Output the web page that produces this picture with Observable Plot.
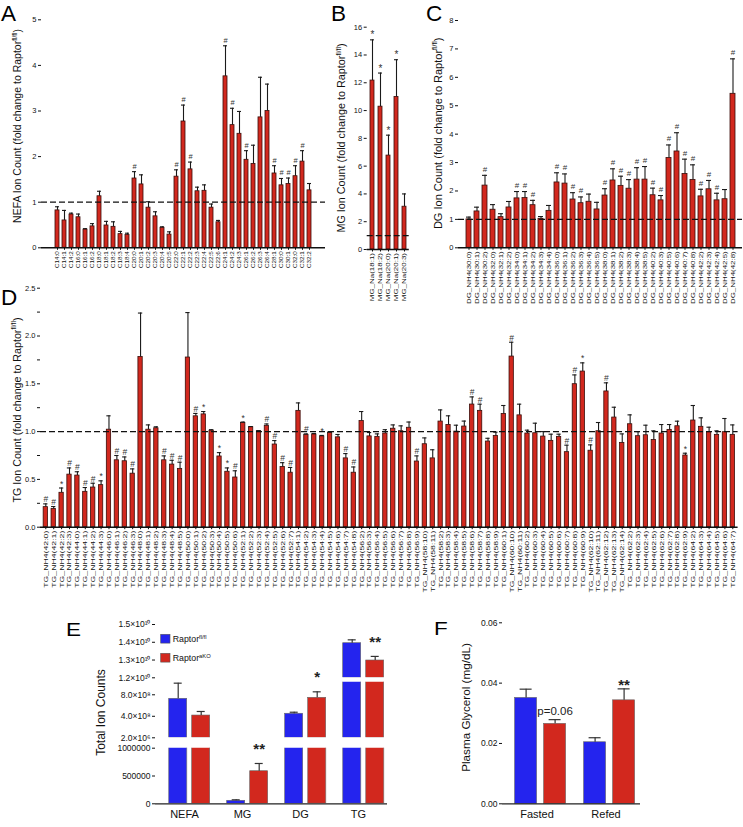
<!DOCTYPE html>
<html><head><meta charset="utf-8">
<script src="https://cdn.jsdelivr.net/npm/d3@7"></script>
<script src="https://cdn.jsdelivr.net/npm/@observablehq/plot@0.6"></script>
<style>
body{margin:0;background:#fff;font-family:'Liberation Sans',Arial,sans-serif}
#fig{position:relative;width:743px;height:827px;overflow:hidden;background:#fff}
#fig svg{overflow:visible}
</style></head><body><div id="fig"></div><script>
// ---------- DATA ----------
const nefaLabels = ["C14:0","C14:1","C14:2","C16:0","C16:1","C16:2","C18:0","C18:1","C18:2","C18:3","C18:4","C20:0","C20:1","C20:2","C20:3","C20:4","C20:5","C22:0","C22:1","C22:2","C22:3","C22:4","C22:5","C22:6","C24:1","C24:2","C24:3","C26:1","C26:2","C26:3","C26:4","C28:1","C30:0","C30:1","C32:0","C32:1","C32:2"];
const nefaMean = [0.82,0.60,0.73,0.67,0.40,0.47,1.13,0.49,0.46,0.30,0.28,1.52,1.39,0.88,0.69,0.44,0.29,1.56,2.77,1.72,1.24,1.25,0.88,0.56,3.76,2.69,2.50,1.93,1.84,2.86,3.00,1.63,1.37,1.40,1.57,1.89,1.26];
const nefaSem = [0.08,0.22,0.03,0.07,0.02,0.06,0.11,0.09,0.11,0.06,0.04,0.15,0.21,0.13,0.10,0.02,0.06,0.15,0.36,0.16,0.09,0.13,0.08,0.04,0.67,0.37,0.49,0.20,0.41,0.88,0.59,0.17,0.15,0.13,0.23,0.24,0.15];
const nefaSig = ["","","","","","","","","","","","#","","","","","","#","#","#","","","","","#","#","","#","","","","#","#","#","#","#",""];

const mgLabels = ["MG_Na(18:1)","MG_Na(18:2)","MG_Na(20:0)","MG_Na(20:1)","MG_Na(20:3)"];
const mgMean = [12.16,10.28,6.76,10.98,3.08];
const mgSem = [2.93,2.42,1.47,2.68,0.92];
const mgSig = ["*","*","*","*",""];

const dgLabels = ["DG_NH4(30:0)","DG_NH4(30:1)","DG_NH4(30:2)","DG_NH4(32:0)","DG_NH4(32:1)","DG_NH4(32:2)","DG_NH4(34:0)","DG_NH4(34:1)","DG_NH4(34:2)","DG_NH4(34:3)","DG_NH4(34:4)","DG_NH4(36:0)","DG_NH4(36:1)","DG_NH4(36:2)","DG_NH4(36:3)","DG_NH4(36:4)","DG_NH4(36:5)","DG_NH4(38:0)","DG_NH4(38:1)","DG_NH4(38:2)","DG_NH4(38:3)","DG_NH4(38:4)","DG_NH4(38:5)","DG_NH4(40:2)","DG_NH4(40:3)","DG_NH4(40:5)","DG_NH4(40:6)","DG_NH4(40:7)","DG_NH4(40:8)","DG_NH4(42:2)","DG_NH4(42:3)","DG_NH4(42:4)","DG_NH4(42:5)","DG_NH4(42:8)"];
const dgMean = [1.00,1.28,2.19,1.34,1.08,1.42,1.74,1.75,1.50,1.02,1.30,2.30,2.26,1.70,1.57,1.62,1.35,1.84,2.37,2.18,2.08,2.40,2.40,1.85,1.67,3.16,3.39,2.60,2.39,1.81,2.06,1.67,1.71,5.42];
const dgSem = [0.08,0.15,0.36,0.18,0.12,0.21,0.24,0.23,0.17,0.08,0.19,0.34,0.34,0.24,0.22,0.27,0.25,0.24,0.41,0.34,0.32,0.42,0.46,0.25,0.17,0.46,0.66,0.52,0.53,0.25,0.31,0.25,0.34,1.23];
const dgSig = ["","","#","","","","#","#","#","","","#","#","#","#","","","#","#","#","#","#","#","#","#","#","#","#","#","#","#","#","","#"];

const tgLabels = ["TG_NH4(42:0)","TG_NH4(42:1)","TG_NH4(42:2)","TG_NH4(42:3)","TG_NH4(44:0)","TG_NH4(44:1)","TG_NH4(44:2)","TG_NH4(44:3)","TG_NH4(46:0)","TG_NH4(46:1)","TG_NH4(46:2)","TG_NH4(46:3)","TG_NH4(48:0)","TG_NH4(48:1)","TG_NH4(48:2)","TG_NH4(48:3)","TG_NH4(48:4)","TG_NH4(48:5)","TG_NH4(50:0)","TG_NH4(50:1)","TG_NH4(50:2)","TG_NH4(50:3)","TG_NH4(50:4)","TG_NH4(50:5)","TG_NH4(50:6)","TG_NH4(52:1)","TG_NH4(52:2)","TG_NH4(52:3)","TG_NH4(52:4)","TG_NH4(52:5)","TG_NH4(52:6)","TG_NH4(52:7)","TG_NH4(54:1)","TG_NH4(54:2)","TG_NH4(54:3)","TG_NH4(54:4)","TG_NH4(54:5)","TG_NH4(54:6)","TG_NH4(54:7)","TG_NH4(54:8)","TG_NH4(56:2)","TG_NH4(56:3)","TG_NH4(56:4)","TG_NH4(56:5)","TG_NH4(56:6)","TG_NH4(56:7)","TG_NH4(56:8)","TG_NH4(56:9)","TG_NH4(58:10)","TG_NH4(58:11)","TG_NH4(58:2)","TG_NH4(58:3)","TG_NH4(58:4)","TG_NH4(58:5)","TG_NH4(58:6)","TG_NH4(58:7)","TG_NH4(58:8)","TG_NH4(58:9)","TG_NH4(60:1)","TG_NH4(60:10)","TG_NH4(60:11)","TG_NH4(60:2)","TG_NH4(60:3)","TG_NH4(60:4)","TG_NH4(60:5)","TG_NH4(60:6)","TG_NH4(60:7)","TG_NH4(60:8)","TG_NH4(60:9)","TG_NH4(62:10)","TG_NH4(62:11)","TG_NH4(62:12)","TG_NH4(62:13)","TG_NH4(62:14)","TG_NH4(62:2)","TG_NH4(62:3)","TG_NH4(62:4)","TG_NH4(62:5)","TG_NH4(62:6)","TG_NH4(62:7)","TG_NH4(62:8)","TG_NH4(62:9)","TG_NH4(64:2)","TG_NH4(64:3)","TG_NH4(64:4)","TG_NH4(64:5)","TG_NH4(64:6)","TG_NH4(64:7)"];
const tgMean = [0.21,0.19,0.36,0.55,0.54,0.37,0.415,0.44,1.02,0.70,0.69,0.56,1.78,1.02,1.035,0.70,0.655,0.61,
  1.775,1.16,1.18,1.01,0.74,0.58,0.52,1.09,1.046,1.004,1.06,0.865,0.63,0.57,1.217,0.966,0.97,0.95,
  0.987,0.94,0.72,0.57,1.11,0.95,0.945,0.98,1.03,1.004,1.04,0.687,0.868,0.72,1.105,1.07,1.0,1.053,
  1.283,1.217,0.896,0.955,1.185,1.785,1.17,0.98,0.983,0.948,0.903,0.945,0.785,1.496,1.628,0.80,1.004,
  1.42,1.147,0.882,1.077,0.952,0.962,0.913,0.98,1.018,1.056,0.75,1.116,1.05,0.994,0.966,0.994,0.966];
const tgSem = [0.034,0.026,0.05,0.07,0.04,0.045,0.045,0.045,0.145,0.05,0.045,0.05,0.46,0.05,0.015,0.046,0.045,0.07,
  0.47,0.03,0.03,0.01,0.04,0.04,0.07,0.01,0.007,0.006,0.02,0.041,0.045,0.055,0.083,0.01,0.01,0.01,
  0.01,0.03,0.05,0.06,0.10,0.04,0.031,0.04,0.04,0.056,0.06,0.059,0.066,0.09,0.122,0.095,0.067,0.057,
  0.08,0.07,0.034,0.039,0.088,0.15,0.117,0.035,0.105,0.052,0.07,0.028,0.073,0.097,0.091,0.061,0.091,
  0.09,0.108,0.094,0.098,0.048,0.105,0.095,0.094,0.056,0.053,0.024,0.157,0.094,0.052,0.042,0.143,0.104];
const tgSig = ["#","#","*","#","#","#","#","*","","#","#","#","","","","#","#","#",
  "","#","*","","*","*","#","*","","","#","#","#","#","","#","","*",
  "","","#","#","","","","","","","","#","","","","","","",
  "#","#","","","","#","","","","","","","#","#","*","#","",
  "#","","","","","","","","","","*","","","","","",""];

const eGroups = ["NEFA","MG","DG","TG"];
const eFlMean = [7.03e8, 5.4e4, 4.34e8, 1.3947e10];
const eFlSem  = [4.6e8, 1.8e4, 2.2e7, 1.9e8];
const eKoMean = [4.1e8, 5.86e5, 7.26e8, 1.2974e10];
const eKoSem  = [5.7e7, 1.39e5, 1.54e8, 2.3e8];
const eKoSig  = ["", "**", "*", "**"];
const eTopTicks = [1.2e10, 1.3e10, 1.4e10, 1.5e10];
const eTopTickLabels = ["1.2×10¹⁰","1.3×10¹⁰","1.4×10¹⁰","1.5×10¹⁰"];
const eMidTicks = [2e8, 4e8, 8e8];
const eMidTickLabels = ["2.0×10⁶","4.0×10⁸","8.0×10⁸"];
const eLowTicks = [0, 5e5, 1e6];
const eLowTickLabels = ["0","500000","1000000"];

const fGroups = ["Fasted","Refed"];
const fFlMean = [0.0351, 0.0204];
const fFlSem  = [0.0029, 0.0015];
const fKoMean = [0.0265, 0.0343];
const fKoSem  = [0.0014, 0.0038];
const fKoSig  = ["p=0.06", "**"];
const fTicks = [0, 0.02, 0.04, 0.06];

// ---------- DRAWING ----------
const FONT = "'Liberation Sans', Arial, sans-serif";
const RED = "#d2281e", DARKRED = "#3a0c08", BLUE = "#2424ee";
const fig = document.getElementById("fig");

function place(node, left, top, w, h) {
  const d = document.createElement("div");
  d.style.cssText = `position:absolute;left:${left}px;top:${top}px;width:${w}px;height:${h}px`;
  d.appendChild(node);
  fig.appendChild(d);
}

function foldPanel(o) {
  const data = o.labels.map((label, i) => ({label, mean: o.mean[i], sem: o.sem[i], sig: o.sig[i]}));
  const svg = Plot.plot({
    width: o.w, height: o.h,
    marginLeft: o.ml, marginRight: o.mr, marginTop: o.mt, marginBottom: o.mb,
    style: {fontFamily: FONT, background: "transparent", overflow: "visible", color: "#111"},
    x: {domain: o.labels, paddingInner: o.pi, paddingOuter: o.po, axis: null},
    y: {domain: o.yDomain, axis: null},
    marks: [
      Plot.barY(data, {x: "label", y: "mean", fill: RED, stroke: DARKRED, strokeWidth: 0.8}),
      Plot.ruleX(data, {x: "label", y1: "mean", y2: d => d.mean + d.sem, stroke: "#1a1a1a", strokeWidth: 1.1}),
      Plot.tickY(data, {x: "label", y: d => d.mean + d.sem, stroke: "#1a1a1a", strokeWidth: 1.1}),
      Plot.ruleY([1], {stroke: "#111", strokeWidth: 1.3, strokeDasharray: "6,3"}),
      Plot.text(data.filter(d => d.sig), {x: "label", y: d => d.mean + d.sem, text: "sig", lineAnchor: "bottom", dy: o.sigDy, fontSize: o.sigFont, fill: "#333"}),
      Plot.axisX({tickRotate: -90, fontSize: o.xFont, tickSize: 2.5, tickPadding: 1, label: null}),
      Plot.axisY({ticks: o.yTicks, tickFormat: o.yFormat, tickSize: 3, tickPadding: 2, fontSize: o.yFont, label: null, line: true}),
      Plot.ruleY([0], {stroke: "#111", strokeWidth: 1.5})
    ]
  });
  if (o.xScale !== 1) {
    svg.querySelectorAll('[aria-label="x-axis tick label"] text').forEach(t => {
      const tr = t.getAttribute("transform");
      if (tr) t.setAttribute("transform", tr + ` scale(${o.xScale},1)`);
    });
  }
  place(svg, o.left, o.top, o.w, o.h);
}

foldPanel({labels: nefaLabels, mean: nefaMean, sem: nefaSem, sig: nefaSig,
  left: 0, top: 0, w: 330, h: 300, ml: 41, mr: 5, mt: 19.3, mb: 52.7, pi: 0.4, po: 0.4,
  yDomain: [0, 5], yTicks: [0,1,2,3,4,5], yFormat: d => String(d), xFont: 6, xScale: 1.05, yFont: 7.5, sigFont: 7.5, sigDy: -3});

foldPanel({labels: mgLabels, mean: mgMean, sem: mgSem, sig: mgSig,
  left: 330, top: 0, w: 92, h: 300, ml: 36.7, mr: 13.2, mt: 26.7, mb: 51, pi: 0.52, po: 0.1,
  yDomain: [0, 16], yTicks: [0,2,4,6,8,10,12,14,16], yFormat: d => String(d), xFont: 6, xScale: 1.33, yFont: 7.5, sigFont: 10, sigDy: -1.5});

foldPanel({labels: dgLabels, mean: dgMean, sem: dgSem, sig: dgSig,
  left: 422, top: 0, w: 321, h: 300, ml: 36, mr: 1, mt: 20, mb: 52.7, pi: 0.43, po: 0.45,
  yDomain: [0, 8], yTicks: [0,1,2,3,4,5,6,7,8], yFormat: d => String(d), xFont: 6, xScale: 1.32, yFont: 7.5, sigFont: 8, sigDy: -3.5});

foldPanel({labels: tgLabels, mean: tgMean, sem: tgSem, sig: tgSig,
  left: 0, top: 275, w: 743, h: 330, ml: 40, mr: 5.4, mt: 12.7, mb: 78.3, pi: 0.455, po: 0.4,
  yDomain: [0, 2.5], yTicks: d3.range(11).map(i => i * 0.25), yFormat: d => (d % 0.5 === 0 ? d.toFixed(1) : ""),
  xFont: 6, xScale: 1.45, yFont: 7.5, sigFont: 8.5, sigDy: -1.5});

// ---------- Panel E (broken axis: three stacked segments) ----------
const eData = [];
eGroups.forEach((g, i) => {
  eData.push({group: g, geno: "fl", mean: eFlMean[i], sem: eFlSem[i], sig: ""});
  eData.push({group: g, geno: "ko", mean: eKoMean[i], sem: eKoSem[i], sig: eKoSig[i]});
});

function eSegment(s) {
  const inSeg = eData.filter(d => d.mean >= s.lo && d.mean <= s.hi);
  const marks = [
    Plot.barY(eData, {fx: "group", x: "geno", y1: () => s.lo, y2: d => Math.max(d.mean, s.lo), fill: "geno", stroke: "#666", strokeWidth: 0.6, clip: true}),
    Plot.ruleX(inSeg, {fx: "group", x: "geno", y1: "mean", y2: d => d.mean + d.sem, stroke: "#333", strokeWidth: 1.2}),
    Plot.tickY(inSeg, {fx: "group", x: "geno", y: d => d.mean + d.sem, stroke: "#333", strokeWidth: 1.2, insetLeft: 5, insetRight: 5}),
    Plot.text(inSeg.filter(d => d.sig), {fx: "group", x: "geno", y: d => d.mean + d.sem, text: "sig", lineAnchor: "bottom", dy: -9.5, fontSize: 15, fontWeight: "bold", fill: "#222"}),
    Plot.axisY({ticks: s.ticks, tickFormat: d => s.labels[s.ticks.indexOf(d)], tickSize: 3, tickPadding: 2, fontSize: 8.5, line: true, label: null})
  ];
  if (s.bottom) {
    marks.push(Plot.ruleY([0], {stroke: "#222", strokeWidth: 1.2}));
    marks.push(Plot.axisFx({anchor: "bottom", tickSize: 0, tickPadding: 6, fontSize: 11, label: null}));
  }
  const svg = Plot.plot({
    width: 400, height: s.h, marginLeft: 153.3, marginRight: 11.9, marginTop: s.mt, marginBottom: s.mb,
    style: {fontFamily: FONT, background: "transparent", overflow: "visible", color: "#111"},
    fx: {domain: eGroups, padding: 0, axis: null},
    x: {domain: ["fl", "ko"], paddingInner: 0.2, paddingOuter: 0.318, align: 0.84, axis: null},
    y: {type: s.type, domain: [s.lo, s.hi], axis: null},
    color: {domain: ["fl", "ko"], range: [BLUE, RED]},
    marks
  });
  place(svg, 0, s.top, 400, s.h);
}
eSegment({top: 612, h: 67, mt: 12, mb: 1.7, type: "linear", lo: 1.2e10, hi: 1.5e10, ticks: eTopTicks, labels: eTopTickLabels});
eSegment({top: 679, h: 60, mt: 2.7, mb: 1.7, type: "log", lo: 2e8, hi: 1.2e9, ticks: eMidTicks, labels: eMidTickLabels});
eSegment({top: 739, h: 88, mt: 8.7, mb: 23.7, type: "linear", lo: 0, hi: 1e6, ticks: eLowTicks, labels: eLowTickLabels, bottom: true});

// ---------- Panel F ----------
const fData = [];
fGroups.forEach((g, i) => {
  fData.push({group: g, geno: "fl", mean: fFlMean[i], sem: fFlSem[i], sig: ""});
  fData.push({group: g, geno: "ko", mean: fKoMean[i], sem: fKoSem[i], sig: fKoSig[i]});
});
{
  const svg = Plot.plot({
    width: 323, height: 217, marginLeft: 81.4, marginRight: 101.8, marginTop: 12.3, marginBottom: 23.7,
    style: {fontFamily: FONT, background: "transparent", overflow: "visible", color: "#111"},
    fx: {domain: fGroups, padding: 0, axis: null},
    x: {domain: ["fl", "ko"], paddingInner: 0.253, paddingOuter: 0.29, align: 0.695, axis: null},
    y: {domain: [0, 0.06], axis: null},
    color: {domain: ["fl", "ko"], range: [BLUE, RED]},
    marks: [
      Plot.barY(fData, {fx: "group", x: "geno", y: "mean", fill: "geno", stroke: "#666", strokeWidth: 0.6}),
      Plot.ruleX(fData, {fx: "group", x: "geno", y1: "mean", y2: d => d.mean + d.sem, stroke: "#333", strokeWidth: 1.2}),
      Plot.tickY(fData, {fx: "group", x: "geno", y: d => d.mean + d.sem, stroke: "#333", strokeWidth: 1.2, insetLeft: 5, insetRight: 5}),
      Plot.text(fData.filter(d => d.sig === "**"), {fx: "group", x: "geno", y: d => d.mean + d.sem, text: "sig", lineAnchor: "bottom", dy: 1, fontSize: 15, fontWeight: "bold", fill: "#222"}),
      Plot.text(fData.filter(d => d.sig && d.sig !== "**"), {fx: "group", x: "geno", y: d => d.mean + d.sem, text: "sig", lineAnchor: "bottom", dy: -5, fontSize: 11.5, fill: "#222"}),
      Plot.axisY({ticks: fTicks, tickFormat: d3.format(".2f"), tickSize: 3, tickPadding: 2, fontSize: 8.5, line: true, label: null}),
      Plot.ruleY([0], {stroke: "#222", strokeWidth: 1.2}),
      Plot.axisFx({anchor: "bottom", tickSize: 0, tickPadding: 6, fontSize: 11, label: null})
    ]
  });
  place(svg, 420, 610, 323, 217);
}

// ---------- Overlay: panel letters, axis titles, legend ----------
const ov = d3.create("svg").attr("width", 743).attr("height", 827)
  .style("position", "absolute").style("left", "0px").style("top", "0px")
  .style("pointer-events", "none").style("font-family", FONT).style("white-space", "pre");
const letters = [["A", 1, 20.8, 1], ["B", 331, 20.5, 1], ["C", 426, 20.5, 1], ["D", 1, 305, 1], ["E", 66, 635.7, 0.78], ["F", 434, 635, 0.78]];
letters.forEach(([t, x, y, sy]) => ov.append("text").attr("transform", `translate(${x},${y}) scale(1,${sy})`).attr("font-size", 22.5).attr("fill", "#000").text(t));

function yTitle(x, y, size, main, sup) {
  const t = ov.append("text").attr("transform", `translate(${x},${y}) rotate(-90)`).attr("text-anchor", "middle").attr("font-size", size).attr("fill", "#111");
  t.append("tspan").text(main);
  if (sup) {
    t.append("tspan").attr("font-size", size * 0.62).attr("dy", -size * 0.38).text(sup);
    t.append("tspan").attr("dy", size * 0.38).text(")");
  }
}
yTitle(20.5, 126, 10.5, "NEFA Ion Count (fold change to Raptor", "fl/fl");
yTitle(345, 138, 10.8, "MG Ion Count (fold change to Raptor", "fl/fl");
yTitle(441.5, 133.3, 11, "DG Ion Count (fold change to Raptor", "fl/fl");
yTitle(20.5, 410, 10.7, "TG Ion Count (fold change to Raptor", "fl/fl");
yTitle(104.5, 712.5, 12, "Total Ion Counts", null);
yTitle(470, 707.5, 11.7, "Plasma Glycerol  (mg/dL)", null);

const legend = [["Raptor", "fl/fl", BLUE, 634.3, 642.3], ["Raptor", "aKO", RED, 653.3, 661]];
legend.forEach(([m, s, c, ry, by]) => {
  ov.append("rect").attr("x", 160.7).attr("y", ry).attr("width", 9.3).attr("height", 8.8).attr("fill", c).attr("stroke", "#555").attr("stroke-width", 0.6);
  const t = ov.append("text").attr("x", 172.7).attr("y", by).attr("font-size", 8.8).attr("fill", "#111");
  t.append("tspan").text(m);
  t.append("tspan").attr("font-size", 5.8).attr("dy", -3.5).text(s);
});
fig.appendChild(ov.node());
</script></body></html>
